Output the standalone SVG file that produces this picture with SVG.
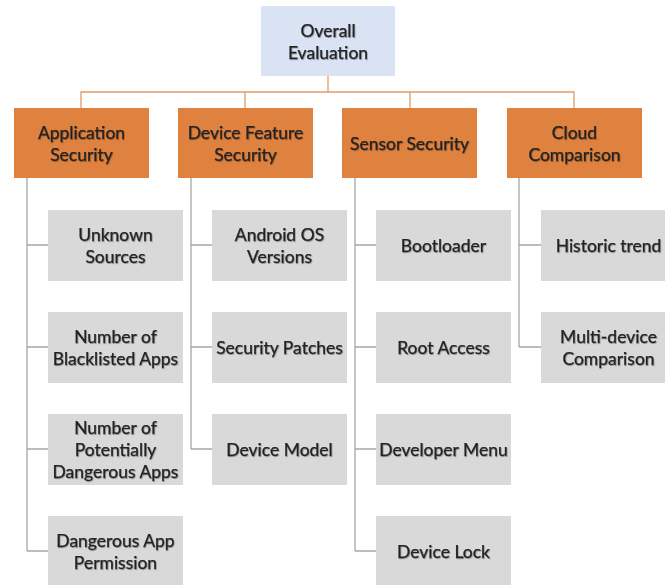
<svg xmlns="http://www.w3.org/2000/svg" width="665" height="585" viewBox="0 0 665 585">
<defs>
<filter id="sh" x="-5%" y="-20%" width="110%" height="140%"><feDropShadow dx="0.8" dy="0.8" stdDeviation="0.6" flood-color="#000000" flood-opacity="0.3"/></filter>
</defs>
<style>
.top{fill:#dae3f3}
.cat{fill:#e0823f}
.leaf{fill:#d9d9d9}
text{font-family:Lato,"Open Sans","Liberation Sans",sans-serif;font-size:17.5px;fill:#222222;stroke:#222222;stroke-width:0.25;text-anchor:middle;dominant-baseline:central;filter:url(#sh)}
.main{fill:none;stroke:#e39a68;stroke-width:1.3}
.sub{fill:none;stroke:#a6a6a6;stroke-width:1.3}
</style>
<rect width="665" height="585" fill="#ffffff"/>
<g id="connectors">
<path class="main" d="M328 76V92M81 108V92H574V108M245 92V108M410 92V108"/>
<path class="sub" d="M27 178V551M27 245H48M27 347H48M27 449H48M27 551H48"/>
<path class="sub" d="M191 178V449M191 245H212M191 347H212M191 449H212"/>
<path class="sub" d="M355 178V551M355 245H376M355 347H376M355 449H376M355 551H376"/>
<path class="sub" d="M519 178V347M519 245H541M519 347H541"/>
</g>
<g id="overall"><rect class="top" x="261" y="6" width="134" height="70"/><text x="328" y="30">Overall</text><text x="328" y="52">Evaluation</text></g>
<g id="app"><rect class="cat" x="14" y="108" width="135" height="70"/><text x="81.5" y="132">Application</text><text x="81.5" y="154">Security</text></g>
<g id="dev"><rect class="cat" x="178" y="108" width="135" height="70"/><text x="245.5" y="132">Device Feature</text><text x="245.5" y="154">Security</text></g>
<g id="sensor"><rect class="cat" x="342" y="108" width="135" height="70"/><text x="409.5" y="143">Sensor Security</text></g>
<g id="cloud"><rect class="cat" x="507" y="108" width="135" height="70"/><text x="574.5" y="132">Cloud</text><text x="574.5" y="154">Comparison</text></g>
<g id="unknown"><rect class="leaf" x="48" y="210" width="135" height="71"/><text x="115.5" y="234">Unknown</text><text x="115.5" y="256">Sources</text></g>
<g id="blacklisted"><rect class="leaf" x="48" y="312" width="135" height="71"/><text x="115.5" y="336">Number of</text><text x="115.5" y="358">Blacklisted Apps</text></g>
<g id="dangerousapps"><rect class="leaf" x="48" y="414" width="135" height="71"/><text x="115.5" y="427">Number of</text><text x="115.5" y="449">Potentially</text><text x="115.5" y="471">Dangerous Apps</text></g>
<g id="permission"><rect class="leaf" x="48" y="516" width="135" height="71"/><text x="115.5" y="540">Dangerous App</text><text x="115.5" y="562">Permission</text></g>
<g id="osversions"><rect class="leaf" x="212" y="210" width="135" height="71"/><text x="279.5" y="234">Android OS</text><text x="279.5" y="256">Versions</text></g>
<g id="patches"><rect class="leaf" x="212" y="312" width="135" height="71"/><text x="279.5" y="347">Security Patches</text></g>
<g id="model"><rect class="leaf" x="212" y="414" width="135" height="71"/><text x="279.5" y="449">Device Model</text></g>
<g id="bootloader"><rect class="leaf" x="376" y="210" width="135" height="71"/><text x="443.5" y="245">Bootloader</text></g>
<g id="root"><rect class="leaf" x="376" y="312" width="135" height="71"/><text x="443.5" y="347">Root Access</text></g>
<g id="devmenu"><rect class="leaf" x="376" y="414" width="135" height="71"/><text x="443.5" y="449">Developer Menu</text></g>
<g id="lock"><rect class="leaf" x="376" y="516" width="135" height="71"/><text x="443.5" y="551">Device Lock</text></g>
<g id="historic"><rect class="leaf" x="541" y="210" width="135" height="71"/><text x="608.5" y="245">Historic trend</text></g>
<g id="multidevice"><rect class="leaf" x="541" y="312" width="135" height="71"/><text x="608.5" y="336">Multi-device</text><text x="608.5" y="358">Comparison</text></g>
</svg>
